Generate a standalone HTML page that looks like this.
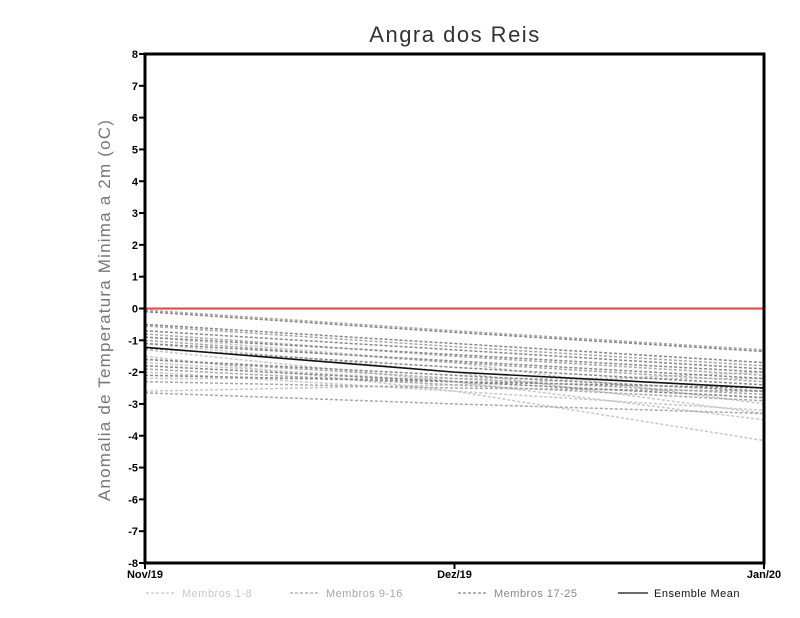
<!DOCTYPE html>
<html><head><meta charset="utf-8"><style>
body{margin:0;background:#fff;}
svg{display:block;font-family:"Liberation Sans",sans-serif;}
</style></head><body>
<svg id="chart" width="800" height="618">
<text x="455" y="42" text-anchor="middle" font-size="22" fill="#333" letter-spacing="1.5">Angra dos Reis</text>
<text transform="translate(110,310) rotate(-90)" text-anchor="middle" font-size="17" fill="#777" letter-spacing="1.2">Anomalia de Temperatura Minima a 2m (oC)</text>
<g id="marks"></g>
<g id="axes"></g>
<g id="legend"></g>
</svg>
<script>
const xLabels=["Nov/19","Dez/19","Jan/20"];
const yTicks=[8,7,6,5,4,3,2,1,0,-1,-2,-3,-4,-5,-6,-7,-8];
const membros1=[[-0.9,-1.7,-3.0],[-1.1,-2.0,-3.3],[-1.3,-2.3,-3.5],[-1.5,-2.6,-4.15],[-1.7,-2.3,-2.8],[-2.0,-2.6,-3.2],[-2.2,-2.2,-2.2],[-2.6,-2.4,-2.0]];
const membros2=[[-0.05,-0.7,-1.3],[-0.55,-1.2,-1.8],[-0.8,-1.5,-2.1],[-1.0,-1.7,-2.3],[-1.6,-2.2,-2.7],[-1.9,-2.4,-2.9],[-2.3,-2.5,-2.6],[-2.65,-3.0,-3.3]];
const membros3=[[-0.1,-0.75,-1.35],[-0.5,-1.1,-1.7],[-0.7,-1.3,-1.9],[-0.9,-1.45,-2.0],[-1.1,-1.65,-2.2],[-1.25,-1.85,-2.4],[-1.6,-2.1,-2.6],[-1.8,-2.3,-2.8],[-2.1,-2.3,-2.5]];
const ensembleMean=[-1.22,-2.0,-2.5];
const X0=145,X1=764,Y0=54,Y1=563;
const xs=i=>X0+i*(X1-X0)/(xLabels.length-1);
const ys=v=>Y1-(v+8)*(Y1-Y0)/16;
const NS="http://www.w3.org/2000/svg";
function mk(tag,attrs,parent){const e=document.createElementNS(NS,tag);for(const k in attrs)e.setAttribute(k,attrs[k]);parent.appendChild(e);return e;}
const marks=document.getElementById('marks'),axes=document.getElementById('axes'),leg=document.getElementById('legend');
function pts(s){return s.map((v,i)=>xs(i)+","+ys(v)).join(" ");}
[[membros1,"#c8c8c8","membro-1-8-line"],[membros2,"#a8a8a8","membro-9-16-line"],[membros3,"#888888","membro-17-25-line"]].forEach(([g,c,n])=>{
 g.forEach(s=>{const p=mk('polyline',{points:pts(s),fill:'none',stroke:c,'stroke-width':1.5,'stroke-dasharray':'3,2'},marks);
 
 });
});
const zl=mk('line',{x1:X0,x2:X1,y1:ys(0),y2:ys(0),stroke:'#f04040','stroke-width':2},marks);


const em=mk('polyline',{points:pts(ensembleMean),fill:'none',stroke:'#111','stroke-width':1.6},marks);


const fr=mk('rect',{x:X0,y:Y0,width:X1-X0,height:Y1-Y0,fill:'none',stroke:'#000','stroke-width':3},axes);


yTicks.forEach(v=>{mk('line',{x1:X0-6,x2:X0,y1:ys(v),y2:ys(v),stroke:'#000','stroke-width':2},axes);
 const t=mk('text',{x:X0-7,y:ys(v)+4,'text-anchor':'end','font-size':11,'font-weight':'bold'},axes);t.textContent=v;
 
 });
xLabels.forEach((l,i)=>{mk('line',{x1:xs(i),x2:xs(i),y1:Y1,y2:Y1+6,stroke:'#000','stroke-width':2},axes);
 const t=mk('text',{x:xs(i),y:Y1+15,'text-anchor':'middle','font-size':11,'font-weight':'bold'},axes);t.textContent=l;
 
 });
[["Membros 1-8","#c8c8c8",146,"3,2"],["Membros 9-16","#a8a8a8",290,"3,2"],["Membros 17-25","#888",458,"3,2"],["Ensemble Mean","#111",618,""]].forEach(([l,c,x,d])=>{
 const g=mk('g',{},leg);
 
 
 mk('line',{x1:x,x2:x+30,y1:593,y2:593,stroke:c,'stroke-width':1.2,'stroke-dasharray':d},g);
 const t=mk('text',{x:x+36,y:597,'font-size':11,fill:c==="#111"?"#111":c,'letter-spacing':0.5},g);t.textContent=l;});
</script>
</body></html>
